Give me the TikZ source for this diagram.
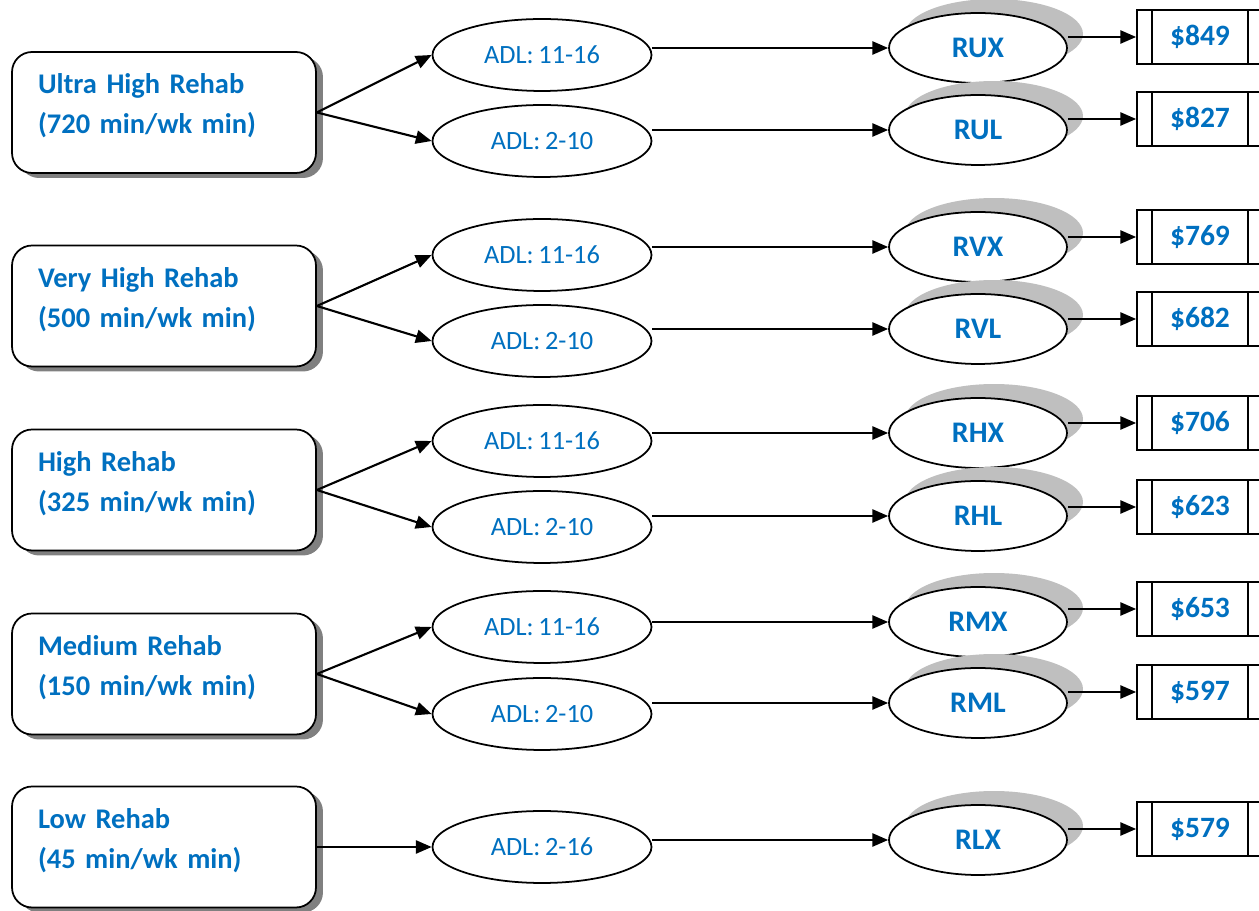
\documentclass[tikz,border=0pt]{standalone}
\usepackage{fontspec}
\setmainfont{Carlito}[WordSpace=0.8]
\usetikzlibrary{arrows.meta,shapes.geometric,shadows}
\definecolor{rehabblue}{HTML}{0070C0}
\tikzset{>={Triangle[length=9pt,width=7.5pt]}}
\newcommand*{\lift}{\\[-13pt]\mbox{}}
\tikzset{
  rehab/.style={draw,line width=1pt,rounded corners=0.4cm,fill=white,
    minimum width=6.08cm,minimum height=2.42cm,text width=5.04cm,
    inner xsep=0.52cm,align=left,text=rehabblue,
    font=\fontsize{16.2}{22.8}\selectfont\bfseries,
    drop shadow={shadow xshift=0.14cm,shadow yshift=-0.1cm,
      fill=black!50,opacity=1}},
  adl/.style={ellipse,draw,line width=1pt,fill=white,inner sep=0pt,
    minimum width=4.38cm,minimum height=1.44cm,text=rehabblue,
    font=\fontsize{15}{18}\selectfont},
  rug/.style={ellipse,draw,line width=1pt,fill=white,inner sep=0pt,
    minimum width=3.56cm,minimum height=1.40cm,text=rehabblue,
    font=\fontsize{17}{20}\selectfont\bfseries,
    general shadow={shadow xshift=0.32cm,shadow yshift=0.28cm,
      fill=black!25}},
  price/.style={draw,line width=1pt,fill=white,inner sep=0pt,
    minimum width=2.52cm,minimum height=1.08cm,text=rehabblue,
    font=\fontsize{16.8}{20}\selectfont\bfseries,
    path picture={
      \draw[line width=1pt] ([xshift=0.3cm]path picture bounding box.north west)
        -- ([xshift=0.3cm]path picture bounding box.south west);
      \draw[line width=1pt] ([xshift=-0.3cm]path picture bounding box.north east)
        -- ([xshift=-0.3cm]path picture bounding box.south east);}},
  arr/.style={->,line width=1.2pt}
}

\begin{document}
\begin{tikzpicture}[x=0.02cm,y=-0.02cm]
\useasboundingbox (0,0) rectangle (1259,911);
\clip (0,0) rectangle (1259,911);
% rehab groups
\node[rehab] (ur) at (164,112.5) {Ultra High Rehab\\(720 min/wk min)\lift};
\node[rehab] (vr) at (164,306) {Very High Rehab\\(500 min/wk min)\lift};
\node[rehab] (hr) at (164,490) {High Rehab\\(325 min/wk min)\lift};
\node[rehab] (mr) at (164,674) {Medium Rehab\\(150 min/wk min)\lift};
\node[rehab] (lr) at (164,847) {Low Rehab\\(45 min/wk min)\lift};
% ADL ranges
\node[adl] (adlux) at (542,55) {ADL: 11-16};
\node[adl] (adlul) at (542,141) {ADL: 2-10};
\node[adl] (adlvx) at (542,255) {ADL: 11-16};
\node[adl] (adlvl) at (542,341) {ADL: 2-10};
\node[adl] (adlhx) at (542,441) {ADL: 11-16};
\node[adl] (adlhl) at (542,527) {ADL: 2-10};
\node[adl] (adlmx) at (542,627) {ADL: 11-16};
\node[adl] (adlml) at (542,714) {ADL: 2-10};
\node[adl] (adllx) at (542,847) {ADL: 2-16};
% RUG codes
\node[rug] (rux) at (978,48) {RUX};
\node[rug] (rul) at (978,130) {RUL};
\node[rug] (rvx) at (978,247) {RVX};
\node[rug] (rvl) at (978,329) {RVL};
\node[rug] (rhx) at (978,433) {RHX};
\node[rug] (rhl) at (978,516) {RHL};
\node[rug] (rmx) at (978,622) {RMX};
\node[rug] (rml) at (978,703) {RML};
\node[rug] (rlx) at (978,840) {RLX};
% rates
\node[price] (pux) at (1200,37) {\$849};
\node[price] (pul) at (1200,119) {\$827};
\node[price] (pvx) at (1200,237) {\$769};
\node[price] (pvl) at (1200,319) {\$682};
\node[price] (phx) at (1200,423) {\$706};
\node[price] (phl) at (1200,507) {\$623};
\node[price] (pmx) at (1200,609) {\$653};
\node[price] (pml) at (1200,692) {\$597};
\node[price] (plx) at (1200,829) {\$579};
% rehab -> ADL
\draw[arr] (ur.east) -- (adlux.west);
\draw[arr] (ur.east) -- (adlul.west);
\draw[arr] (vr.east) -- (adlvx.west);
\draw[arr] (vr.east) -- (adlvl.west);
\draw[arr] (hr.east) -- (adlhx.west);
\draw[arr] (hr.east) -- (adlhl.west);
\draw[arr] (mr.east) -- (adlmx.west);
\draw[arr] (mr.east) -- (adlml.west);
\draw[arr] (lr.east) -- (adllx.west);
% ADL -> RUG
\draw[arr] (adlux.east |- rux.west) -- (rux.west);
\draw[arr] (adlul.east |- rul.west) -- (rul.west);
\draw[arr] (adlvx.east |- rvx.west) -- (rvx.west);
\draw[arr] (adlvl.east |- rvl.west) -- (rvl.west);
\draw[arr] (adlhx.east |- rhx.west) -- (rhx.west);
\draw[arr] (adlhl.east |- rhl.west) -- (rhl.west);
\draw[arr] (adlmx.east |- rmx.west) -- (rmx.west);
\draw[arr] (adlml.east |- rml.west) -- (rml.west);
\draw[arr] (adllx.east |- rlx.west) -- (rlx.west);
% RUG -> rate
\draw[arr] (pux.west -| rux.east) -- (pux.west);
\draw[arr] (pul.west -| rul.east) -- (pul.west);
\draw[arr] (pvx.west -| rvx.east) -- (pvx.west);
\draw[arr] (pvl.west -| rvl.east) -- (pvl.west);
\draw[arr] (phx.west -| rhx.east) -- (phx.west);
\draw[arr] (phl.west -| rhl.east) -- (phl.west);
\draw[arr] (pmx.west -| rmx.east) -- (pmx.west);
\draw[arr] (pml.west -| rml.east) -- (pml.west);
\draw[arr] (plx.west -| rlx.east) -- (plx.west);
\end{tikzpicture}
\end{document}
